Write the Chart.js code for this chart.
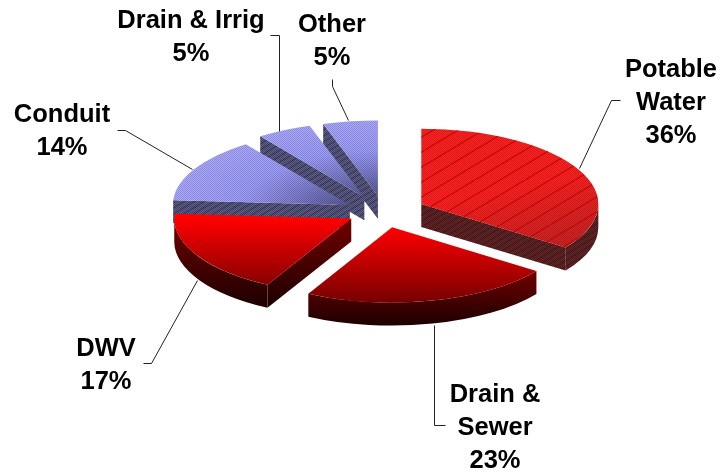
<!DOCTYPE html>
<html>
<head>
<meta charset="utf-8">
<script src="https://cdn.jsdelivr.net/npm/chart.js@4/dist/chart.umd.js"></script>
<style>
  html, body { margin: 0; background: #fff; }
  canvas { display: block; }
</style>
</head>
<body>
<canvas id="pie" width="721" height="472"></canvas>
<script>
const categories = ['Potable\nWater', 'Drain &\nSewer', 'DWV', 'Conduit', 'Drain & Irrig', 'Other'];
const shares = [36, 23, 17, 14, 5, 5];

// label centre x and first baseline
const labelSpots = [[671, 77], [495, 402], [106, 356], [62, 122], [191, 28], [332, 32]];
const leaders = [
    [[620, 100], [611, 100], [579, 168]],
    [[445, 425], [434, 425], [434, 325]],
    [[143, 363], [151, 363], [197, 280]],
    [[117, 130], [125, 130], [192, 169]],
    [[270, 35], [279, 35], [279, 131]],
    [[332, 79], [332, 86], [348, 120]]
];
// small per slice shifts, the blue ones sit a bit further out in the picture
const nudges = [[0, 0], [0, 0], [0, 0], [-2, 2], [-4, 1], [-2, 1]];

const CX = 386, CY = 211;
const R = 177;
const FLAT = 0.425;
const EXPLODE = 39;
const DEPTH = 23;
const DRAW_ORDER = [5, 4, 3, 2, 0, 1];

const ctx = document.getElementById('pie').getContext('2d');

function tile(w, h, paint) {
    const c = document.createElement('canvas');
    c.width = w;
    c.height = h;
    paint(c.getContext('2d'));
    return ctx.createPattern(c, 'repeat');
}

const checker = tile(2, 2, t => {
    t.fillStyle = 'rgba(0,0,0,0.15)';
    t.fillRect(0, 0, 1, 1);
    t.fillRect(1, 1, 1, 1);
});
const wallChecker = tile(2, 2, t => {
    t.fillStyle = 'rgba(0,0,0,0.28)';
    t.fillRect(0, 0, 1, 1);
    t.fillRect(1, 1, 1, 1);
});
const wideHatch = tile(25, 15, t => {
    t.strokeStyle = 'rgba(190,0,0,0.75)';
    t.lineWidth = 1.4;
    [[-25, 15, 0], [0, 15, 25], [25, 15, 50]].forEach(([x0, y0, x1]) => {
        t.beginPath();
        t.moveTo(x0, y0);
        t.lineTo(x1, 0);
        t.stroke();
    });
});
const wallHatch = tile(10, 6, t => {
    t.strokeStyle = 'rgba(20,10,30,0.3)';
    t.lineWidth = 1.5;
    [[-10, 6, 0], [0, 6, 10], [10, 6, 20]].forEach(([x0, y0, x1]) => {
        t.beginPath();
        t.moveTo(x0, y0);
        t.lineTo(x1, 0);
        t.stroke();
    });
});

const potableFace = ctx.createLinearGradient(CX, CY - R, CX + R, CY + R);
potableFace.addColorStop(0, '#ff2020');
potableFace.addColorStop(0.42, '#ff2020');
potableFace.addColorStop(1, '#ac2424');

const redFace = ctx.createLinearGradient(0, CY, 0, CY + R);
redFace.addColorStop(0, '#ff0000');
redFace.addColorStop(1, '#760000');

const blueFace = ctx.createRadialGradient(CX, CY, 0, CX, CY, R);
blueFace.addColorStop(0, '#585896');
blueFace.addColorStop(0.6, '#9c9cfa');
blueFace.addColorStop(1, '#a8a8ff');

const faceFills = [potableFace, redFace, redFace, blueFace, blueFace, blueFace];

// the near half of the 3D pie looks squeezed towards the sides
function perspective(t) {
    if (t <= 0 || t >= Math.PI) return t;
    return t - 0.13 * Math.sin(t) * (1 - 0.5 * t / Math.PI);
}

function edgePoint(a, ox, oy, z) {
    return [ox + R * Math.cos(a), oy + R * FLAT * Math.sin(a) + z];
}

function paintWall(trace, i, top, bottom) {
    ctx.beginPath();
    trace();
    if (i === 1 || i === 2) {
        const g = ctx.createLinearGradient(0, top, 0, bottom);
        g.addColorStop(0, '#720000');
        g.addColorStop(1, '#1c0000');
        ctx.fillStyle = g;
        ctx.fill();
        return;
    }
    ctx.fillStyle = i === 0 ? '#662626' : '#5e5e8a';
    ctx.fill();
    ctx.fillStyle = wallChecker;
    ctx.fill();
    ctx.fillStyle = wallHatch;
    ctx.fill();
}

function drawWalls(arc, i, ox, oy) {
    const a = arc.startAngle, b = arc.endAngle;

    // walls along the cut edges, only those turned to the viewer
    const cuts = [];
    if (Math.cos(a) < -0.001) cuts.push(a);
    if (Math.cos(b) > 0.001) cuts.push(b);
    cuts.forEach(t => {
        const [ex, ey] = edgePoint(t, ox, oy, 0);
        paintWall(() => {
            ctx.moveTo(ox, oy);
            ctx.lineTo(ex, ey);
            ctx.lineTo(ex, ey + DEPTH);
            ctx.lineTo(ox, oy + DEPTH);
            ctx.closePath();
        }, i, Math.min(oy, ey), Math.max(oy, ey) + DEPTH);
    });

    // rim, front half of the ellipse only
    const from = Math.max(a, 0), to = Math.min(b, Math.PI);
    if (to > from) {
        const bottom = oy + R * FLAT * (from < Math.PI / 2 && to > Math.PI / 2 ? 1 : Math.max(Math.sin(from), Math.sin(to))) + DEPTH;
        const top = oy + R * FLAT * Math.min(Math.sin(from), Math.sin(to));
        paintWall(() => {
            ctx.ellipse(ox, oy, R, R * FLAT, 0, from, to);
            ctx.ellipse(ox, oy + DEPTH, R, R * FLAT, 0, to, from, true);
            ctx.closePath();
        }, i, top, bottom);
    }
}

function drawFace(arc, i, ox, oy) {
    ctx.save();
    ctx.translate(ox, oy);
    ctx.scale(1, FLAT);
    ctx.translate(-arc.x, -arc.y);
    arc.draw(ctx);
    ctx.restore();

    if (i === 1 || i === 2) return;
    ctx.beginPath();
    ctx.moveTo(ox, oy);
    ctx.ellipse(ox, oy, R, R * FLAT, 0, arc.startAngle, arc.endAngle);
    ctx.closePath();
    ctx.fillStyle = checker;
    ctx.fill();
    if (i === 0) {
        ctx.fillStyle = wideHatch;
        ctx.fill();
    }
}

const explodedPie = {
    id: 'explodedPie',
    beforeDatasetDraw(chart) {
        const arcs = chart.getDatasetMeta(0).data;
        DRAW_ORDER.forEach(i => {
            const arc = arcs[i];
            const start = arc.startAngle, end = arc.endAngle;
            const mid = (start + end) / 2;
            const ox = arc.x + Math.cos(mid) * EXPLODE + nudges[i][0];
            const oy = arc.y + Math.sin(mid) * EXPLODE * FLAT + nudges[i][1];
            arc.startAngle = perspective(start);
            arc.endAngle = perspective(end);
            drawWalls(arc, i, ox, oy);
            drawFace(arc, i, ox, oy);
            arc.startAngle = start;
            arc.endAngle = end;
        });
        return false;
    },
    afterDraw(chart) {
        const c = chart.ctx;
        c.save();
        c.strokeStyle = '#222';
        c.lineWidth = 1;
        leaders.forEach(line => {
            c.beginPath();
            line.forEach(([x, y], n) => n ? c.lineTo(x + 0.5, y + 0.5) : c.moveTo(x + 0.5, y + 0.5));
            c.stroke();
        });
        c.fillStyle = '#000';
        c.font = 'bold 25.5px "Liberation Sans", Arial, sans-serif';
        c.textAlign = 'center';
        c.textBaseline = 'alphabetic';
        categories.forEach((name, i) => {
            const [x, y] = labelSpots[i];
            const lines = name.split('\n').concat(shares[i] + '%');
            lines.forEach((txt, n) => c.fillText(txt, x, y + n * 33));
        });
        c.restore();
    }
};

new Chart(ctx, {
    type: 'pie',
    data: {
        labels: categories.map(s => s.replace('\n', ' ')),
        datasets: [{
            data: shares,
            backgroundColor: faceFills,
            borderWidth: 0
        }]
    },
    options: {
        responsive: false,
        animation: false,
        radius: R,
        layout: { padding: { left: 51, bottom: 50 } },
        plugins: {
            legend: { display: false },
            tooltip: { enabled: false }
        }
    },
    plugins: [explodedPie]
});
</script>
</body>
</html>
